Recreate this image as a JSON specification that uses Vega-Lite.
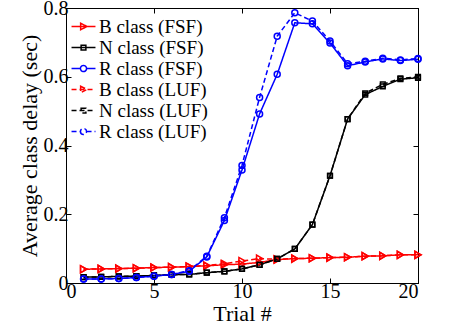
{
  "$schema": "https://vega.github.io/schema/vega-lite/v6.json",
  "width": 352,
  "height": 275,
  "autosize": {"type": "none"},
  "padding": {"left": 66, "top": 8, "right": 33, "bottom": 48},
  "background": "white",
  "config": {
    "view": {"stroke": "black", "strokeWidth": 1},
    "axis": {
      "grid": false,
      "domainColor": "black",
      "tickColor": "black",
      "labelColor": "black",
      "titleColor": "black",
      "labelFont": "Liberation Serif",
      "titleFont": "Liberation Serif",
      "labelFontSize": 20,
      "titleFontSize": 22,
      "titleFontWeight": "normal",
      "tickSize": -5
    },
    "legend": {
      "labelFont": "Liberation Serif",
      "labelFontSize": 19,
      "labelColor": "black"
    }
  },
  "data": {"values": [
    {"t":1,"s":"B class (FSF)","y":0.040},{"t":2,"s":"B class (FSF)","y":0.041},{"t":3,"s":"B class (FSF)","y":0.042},{"t":4,"s":"B class (FSF)","y":0.043},{"t":5,"s":"B class (FSF)","y":0.045},{"t":6,"s":"B class (FSF)","y":0.046},{"t":7,"s":"B class (FSF)","y":0.048},{"t":8,"s":"B class (FSF)","y":0.050},{"t":9,"s":"B class (FSF)","y":0.053},{"t":10,"s":"B class (FSF)","y":0.055},{"t":11,"s":"B class (FSF)","y":0.060},{"t":12,"s":"B class (FSF)","y":0.068},{"t":13,"s":"B class (FSF)","y":0.071},{"t":14,"s":"B class (FSF)","y":0.072},{"t":15,"s":"B class (FSF)","y":0.074},{"t":16,"s":"B class (FSF)","y":0.075},{"t":17,"s":"B class (FSF)","y":0.078},{"t":18,"s":"B class (FSF)","y":0.079},{"t":19,"s":"B class (FSF)","y":0.082},{"t":20,"s":"B class (FSF)","y":0.082},
    {"t":1,"s":"N class (FSF)","y":0.017},{"t":2,"s":"N class (FSF)","y":0.018},{"t":3,"s":"N class (FSF)","y":0.019},{"t":4,"s":"N class (FSF)","y":0.020},{"t":5,"s":"N class (FSF)","y":0.022},{"t":6,"s":"N class (FSF)","y":0.024},{"t":7,"s":"N class (FSF)","y":0.025},{"t":8,"s":"N class (FSF)","y":0.030},{"t":9,"s":"N class (FSF)","y":0.034},{"t":10,"s":"N class (FSF)","y":0.041},{"t":11,"s":"N class (FSF)","y":0.053},{"t":12,"s":"N class (FSF)","y":0.070},{"t":13,"s":"N class (FSF)","y":0.099},{"t":14,"s":"N class (FSF)","y":0.170},{"t":15,"s":"N class (FSF)","y":0.312},{"t":16,"s":"N class (FSF)","y":0.477},{"t":17,"s":"N class (FSF)","y":0.548},{"t":18,"s":"N class (FSF)","y":0.572},{"t":19,"s":"N class (FSF)","y":0.593},{"t":20,"s":"N class (FSF)","y":0.597},
    {"t":1,"s":"R class (FSF)","y":0.012},{"t":2,"s":"R class (FSF)","y":0.012},{"t":3,"s":"R class (FSF)","y":0.013},{"t":4,"s":"R class (FSF)","y":0.016},{"t":5,"s":"R class (FSF)","y":0.020},{"t":6,"s":"R class (FSF)","y":0.025},{"t":7,"s":"R class (FSF)","y":0.034},{"t":8,"s":"R class (FSF)","y":0.076},{"t":9,"s":"R class (FSF)","y":0.182},{"t":10,"s":"R class (FSF)","y":0.329},{"t":11,"s":"R class (FSF)","y":0.492},{"t":12,"s":"R class (FSF)","y":0.607},{"t":13,"s":"R class (FSF)","y":0.757},{"t":14,"s":"R class (FSF)","y":0.754},{"t":15,"s":"R class (FSF)","y":0.698},{"t":16,"s":"R class (FSF)","y":0.632},{"t":17,"s":"R class (FSF)","y":0.643},{"t":18,"s":"R class (FSF)","y":0.652},{"t":19,"s":"R class (FSF)","y":0.647},{"t":20,"s":"R class (FSF)","y":0.651},
    {"t":1,"s":"B class (LUF)","y":0.040},{"t":2,"s":"B class (LUF)","y":0.041},{"t":3,"s":"B class (LUF)","y":0.042},{"t":4,"s":"B class (LUF)","y":0.043},{"t":5,"s":"B class (LUF)","y":0.045},{"t":6,"s":"B class (LUF)","y":0.046},{"t":7,"s":"B class (LUF)","y":0.048},{"t":8,"s":"B class (LUF)","y":0.051},{"t":9,"s":"B class (LUF)","y":0.056},{"t":10,"s":"B class (LUF)","y":0.064},{"t":11,"s":"B class (LUF)","y":0.071},{"t":12,"s":"B class (LUF)","y":0.069},{"t":13,"s":"B class (LUF)","y":0.071},{"t":14,"s":"B class (LUF)","y":0.072},{"t":15,"s":"B class (LUF)","y":0.074},{"t":16,"s":"B class (LUF)","y":0.075},{"t":17,"s":"B class (LUF)","y":0.078},{"t":18,"s":"B class (LUF)","y":0.079},{"t":19,"s":"B class (LUF)","y":0.082},{"t":20,"s":"B class (LUF)","y":0.082},
    {"t":1,"s":"N class (LUF)","y":0.017},{"t":2,"s":"N class (LUF)","y":0.018},{"t":3,"s":"N class (LUF)","y":0.019},{"t":4,"s":"N class (LUF)","y":0.020},{"t":5,"s":"N class (LUF)","y":0.022},{"t":6,"s":"N class (LUF)","y":0.024},{"t":7,"s":"N class (LUF)","y":0.025},{"t":8,"s":"N class (LUF)","y":0.030},{"t":9,"s":"N class (LUF)","y":0.034},{"t":10,"s":"N class (LUF)","y":0.041},{"t":11,"s":"N class (LUF)","y":0.053},{"t":12,"s":"N class (LUF)","y":0.070},{"t":13,"s":"N class (LUF)","y":0.099},{"t":14,"s":"N class (LUF)","y":0.170},{"t":15,"s":"N class (LUF)","y":0.312},{"t":16,"s":"N class (LUF)","y":0.477},{"t":17,"s":"N class (LUF)","y":0.552},{"t":18,"s":"N class (LUF)","y":0.578},{"t":19,"s":"N class (LUF)","y":0.595},{"t":20,"s":"N class (LUF)","y":0.600},
    {"t":1,"s":"R class (LUF)","y":0.012},{"t":2,"s":"R class (LUF)","y":0.012},{"t":3,"s":"R class (LUF)","y":0.013},{"t":4,"s":"R class (LUF)","y":0.016},{"t":5,"s":"R class (LUF)","y":0.020},{"t":6,"s":"R class (LUF)","y":0.025},{"t":7,"s":"R class (LUF)","y":0.036},{"t":8,"s":"R class (LUF)","y":0.078},{"t":9,"s":"R class (LUF)","y":0.190},{"t":10,"s":"R class (LUF)","y":0.342},{"t":11,"s":"R class (LUF)","y":0.540},{"t":12,"s":"R class (LUF)","y":0.718},{"t":13,"s":"R class (LUF)","y":0.786},{"t":14,"s":"R class (LUF)","y":0.762},{"t":15,"s":"R class (LUF)","y":0.704},{"t":16,"s":"R class (LUF)","y":0.638},{"t":17,"s":"R class (LUF)","y":0.645},{"t":18,"s":"R class (LUF)","y":0.654},{"t":19,"s":"R class (LUF)","y":0.649},{"t":20,"s":"R class (LUF)","y":0.653}
  ]},
  "resolve": {"axis": {"x": "independent", "y": "independent"}},
  "layer": [
    {
      "mark": {"type": "line", "strokeWidth": 1.5},
      "encoding": {
        "x": {"field": "t", "type": "quantitative", "scale": {"domain": [0, 20], "nice": false},
              "axis": {"orient": "bottom", "values": [0,5,10,15,20], "title": "Trial #", "labelPadding": 3, "titlePadding": 2,
                       "labelFont": "Liberation Serif", "labelFontSize": 20, "labelColor": "black"}},
        "y": {"field": "y", "type": "quantitative", "scale": {"domain": [0, 0.8], "nice": false},
              "axis": {"orient": "left", "values": [0,0.2,0.4,0.6,0.8], "title": "Average class delay (sec)",
                       "labelFont": "Liberation Serif", "labelFontSize": 20, "labelColor": "black",
                       "labelExpr": "datum.value == 0 ? '0' : format(datum.value, '.1f')", "labelPadding": 3, "titlePadding": 2}},
        "color": {"field": "s", "type": "nominal",
          "scale": {"domain": ["B class (FSF)","N class (FSF)","R class (FSF)","B class (LUF)","N class (LUF)","R class (LUF)"],
                    "range": ["#ff0000","#000000","#0000ff","#ff0000","#000000","#0000ff"]},
          "legend": {"title": null, "orient": "none", "legendX": 7, "legendY": 8, "symbolSize": 361, "symbolStrokeWidth": 1.5, "rowPadding": 0, "labelOffset": 5,
            "labelFont": "Liberation Serif", "labelFontSize": 19, "labelColor": "black",
            "encode": {"symbols": {"update": {
              "shape": {"signal": "indexof(datum.label,'B class')==0 ? 'M-1.26,0H1.26M-0.3,-0.34L0.37,0L-0.3,0.34Z' : indexof(datum.label,'N class')==0 ? 'M-1.26,0H1.26M-0.25,-0.25H0.25V0.25H-0.25Z' : 'M-1.26,0H-0.32M0.32,0H1.26M-0.32,0A0.32,0.32 0 1,0 0.32,0A0.32,0.32 0 1,0 -0.32,0Z'"},
              "fill": {"value": "transparent"}
            }}}}},
        "strokeDash": {"field": "s", "type": "nominal",
          "scale": {"domain": ["B class (FSF)","N class (FSF)","R class (FSF)","B class (LUF)","N class (LUF)","R class (LUF)"],
                    "range": [[1,0],[1,0],[1,0],[5,3],[5,3],[5,3]]}}
      }
    },
    {
      "transform": [{"filter": {"field": "s", "oneOf": ["B class (FSF)", "B class (LUF)"]}}],
      "mark": {"type": "point", "shape": "triangle-right", "size": 50, "filled": false, "strokeWidth": 1.5, "opacity": 1},
      "encoding": {
        "x": {"field": "t", "type": "quantitative", "axis": {"orient": "top", "values": [0,5,10,15,20], "labels": false, "title": null}},
        "y": {"field": "y", "type": "quantitative", "axis": {"orient": "right", "values": [0,0.2,0.4,0.6,0.8], "labels": false, "title": null}},
        "stroke": {"field": "s", "type": "nominal", "legend": null,
          "scale": {"domain": ["B class (FSF)","N class (FSF)","R class (FSF)","B class (LUF)","N class (LUF)","R class (LUF)"],
                    "range": ["#ff0000","#000000","#0000ff","#ff0000","#000000","#0000ff"]}}
      }
    },
    {
      "transform": [{"filter": {"field": "s", "oneOf": ["N class (FSF)", "N class (LUF)"]}}],
      "mark": {"type": "point", "shape": "square", "size": 22, "filled": false, "strokeWidth": 1.5, "opacity": 1},
      "encoding": {
        "x": {"field": "t", "type": "quantitative", "axis": null},
        "y": {"field": "y", "type": "quantitative", "axis": null},
        "stroke": {"field": "s", "type": "nominal", "legend": null}
      }
    },
    {
      "transform": [{"filter": {"field": "s", "oneOf": ["R class (FSF)", "R class (LUF)"]}}],
      "mark": {"type": "point", "shape": "circle", "size": 36, "filled": false, "strokeWidth": 1.5, "opacity": 1},
      "encoding": {
        "x": {"field": "t", "type": "quantitative", "axis": null},
        "y": {"field": "y", "type": "quantitative", "axis": null},
        "stroke": {"field": "s", "type": "nominal", "legend": null}
      }
    }
  ]
}
